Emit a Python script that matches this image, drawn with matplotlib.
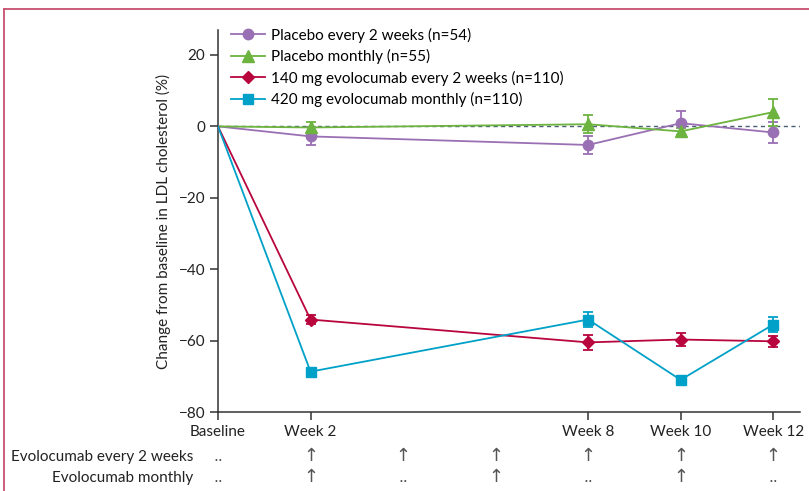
import matplotlib
matplotlib.use("Agg")
import matplotlib.pyplot as plt
from matplotlib.lines import Line2D

plt.rcParams['font.family'] = ['Lato', 'DejaVu Sans']

# weeks since baseline
weeks = [0, 2, 8, 10, 12]
tick_labels = ["Baseline", "Week 2", "Week 8", "Week 10", "Week 12"]

placebo_q2w = [0, -2.8, -5.2, 0.9, -1.7]
placebo_q2w_err = [0, 2.5, 2.4, 3.3, 2.9]
placebo_qm = [0, -0.3, 0.6, -1.4, 4.0]
placebo_qm_err = [0, 1.5, 2.5, 1.0, 3.8]
evo_140 = [0, -54.1, -60.5, -59.7, -60.2]
evo_140_err = [0, 1.2, 2.0, 1.8, 1.5]
evo_420 = [0, -68.7, -54.1, -71.0, -55.5]
evo_420_err = [0, 1.0, 2.0, 1.0, 2.0]

series = [
    ("Placebo every 2 weeks (n=54)", placebo_q2w, placebo_q2w_err, "#9a70b4", "o", 7.5),
    ("Placebo monthly (n=55)", placebo_qm, placebo_qm_err, "#6cb33f", "^", 8),
    ("140 mg evolocumab every 2 weeks (n=110)", evo_140, evo_140_err, "#b8053d", "D", 6),
    ("420 mg evolocumab monthly (n=110)", evo_420, evo_420_err, "#00a1c8", "s", 7),
]

# dosing schedule rows (weeks 0..12 every 2 weeks)
dose_weeks = [0, 2, 4, 6, 8, 10, 12]
q2w_doses = ["..", "↑", "↑", "↑", "↑", "↑", "↑"]
monthly_doses = ["..", "↑", "..", "↑", "..", "↑", ".."]

fig = plt.figure(figsize=(8.09, 4.91), dpi=100)
W, H = 809, 491
ax = fig.add_axes([218 / W, 1 - 412 / H, (800 - 218) / W, (412 - 30) / H])

ax.axhline(0, color="#4a5f73", lw=1.0, ls=(0, (3, 2.5)), zorder=1)

handles = []
for label, vals, err, col, mk, ms in series:
    ax.errorbar(weeks[1:], vals[1:], yerr=err[1:], fmt="none", ecolor=col,
                elinewidth=1.3, capsize=3.8, capthick=1.3, zorder=2)
    ax.plot(weeks, vals, color=col, lw=1.3, zorder=3)
    ax.plot(weeks[1:], vals[1:], ls="none", marker=mk, ms=ms, color=col,
            mec=col, zorder=4)
    handles.append(Line2D([], [], color=col, lw=1.3, marker=mk, ms=ms, label=label))

ax.set_xlim(0, 12.58)
ax.set_ylim(-80, 27)
ax.set_yticks([20, 0, -20, -40, -60, -80])
ax.set_yticklabels(["20", "0", "\u221220", "\u221240", "\u221260", "\u221280"])
ax.set_xticks(weeks)
ax.set_xticklabels(tick_labels)
ax.tick_params(axis="both", direction="out", length=6, width=1.1,
               labelsize=11, color="#333333", labelcolor="#222222", pad=3)
for s in ["top", "right"]:
    ax.spines[s].set_visible(False)
for s in ["left", "bottom"]:
    ax.spines[s].set_color("#333333")
    ax.spines[s].set_linewidth(1.1)

ax.set_ylabel("Change from baseline in LDL cholesterol (%)", fontsize=11,
              color="#222222", labelpad=6)

ax.legend(handles=handles, loc="upper left", bbox_to_anchor=(0.012, 1.022),
          frameon=False, fontsize=11, handlelength=2.2, handletextpad=0.4,
          labelspacing=0.42, borderaxespad=0)

# dosing schedule below the axis
row_y = [1 - 461 / H, 1 - 482 / H]
fig.text(193 / W, row_y[0], "Evolocumab every 2 weeks", ha="right",
         va="baseline", fontsize=11, color="#222222")
fig.text(193 / W, row_y[1], "Evolocumab monthly", ha="right",
         va="baseline", fontsize=11, color="#222222")
for wk, a, b in zip(dose_weeks, q2w_doses, monthly_doses):
    xf = fig.transFigure.inverted().transform(ax.transData.transform((wk, 0)))[0]
    for sym, yy in ((a, row_y[0]), (b, row_y[1])):
        fs = 13 if sym == "↑" else 11
        fig.text(xf, yy, sym, ha="center", va="baseline", fontsize=fs,
                 color="#555555", family=['DejaVu Sans'])

# pink frame edge
border = "#c8516f"
fig.add_artist(Line2D([4 / W, 4 / W], [0, 1 - 9 / H], transform=fig.transFigure,
                      color=border, lw=1.3))
fig.add_artist(Line2D([4 / W, 1], [1 - 9 / H, 1 - 9 / H], transform=fig.transFigure,
                      color=border, lw=1.3))

fig.savefig("out.png", dpi=100)
